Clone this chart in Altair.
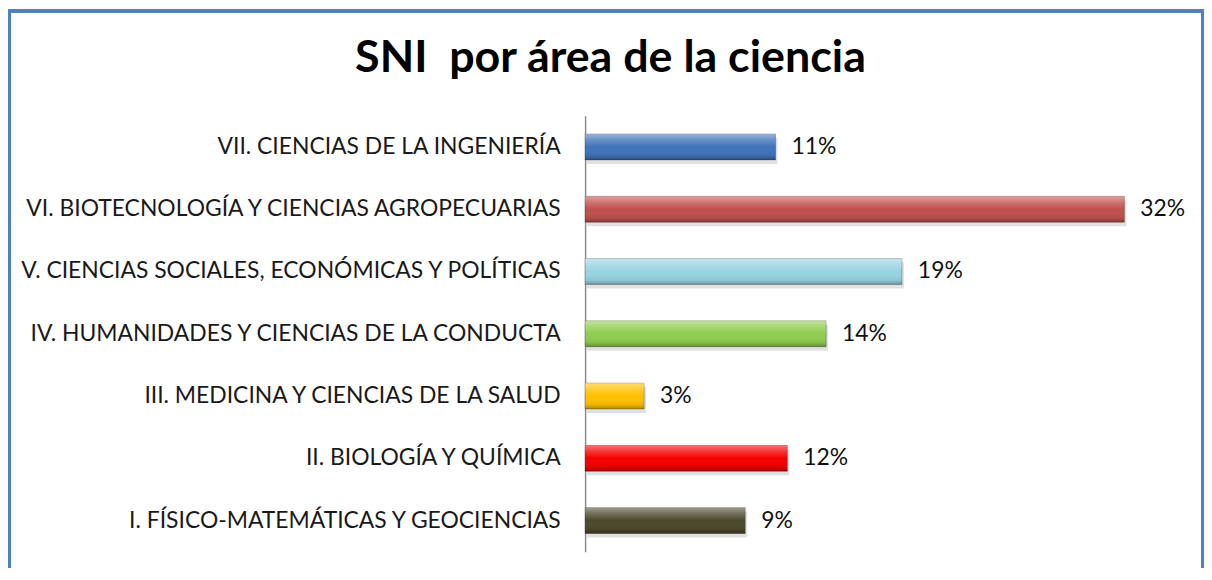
import altair as alt
import pandas as pd

categories = [
    "VII. CIENCIAS DE LA INGENIERÍA",
    "VI. BIOTECNOLOGÍA Y CIENCIAS AGROPECUARIAS",
    "V. CIENCIAS SOCIALES, ECONÓMICAS Y POLÍTICAS",
    "IV. HUMANIDADES Y CIENCIAS DE LA CONDUCTA",
    "III. MEDICINA Y CIENCIAS DE LA SALUD",
    "II. BIOLOGÍA Y QUÍMICA",
    "I. FÍSICO-MATEMÁTICAS Y GEOCIENCIAS",
]
values = [11.3, 32.0, 18.8, 14.3, 3.5, 12.0, 9.5]
labels = ["11%", "32%", "19%", "14%", "3%", "12%", "9%"]
colors = ["#3F73BA", "#C0504D", "#98D3E2", "#8FCC4E", "#FFC000", "#F40000", "#4C482E"]
title_text = "SNI\u00a0 por área de la ciencia"

df = pd.DataFrame({"area": categories, "valor": values, "etiqueta": labels})

W, H = 560, 438
PL, PT = 580, 107
FONT = "Lato"

y_enc = alt.Y(
    "area:N",
    sort=categories,
    scale=alt.Scale(paddingInner=0.585, paddingOuter=0.2925),
    axis=alt.Axis(
        title=None, ticks=False, labelPadding=25, labelFontSize=23, labelFont=FONT,
        labelColor="#1a1a1a", labelLimit=700, domainColor="#8c8c8c", domainWidth=1.5,
        grid=False,
    ),
)
x_enc = alt.X("valor:Q", scale=alt.Scale(domain=[0, 32 * W / 542]), axis=None)

base = alt.Chart(df)

shadow = base.mark_bar(color="#000000", opacity=0.12, yOffset=4, xOffset=2).encode(x=x_enc, y=y_enc)

bars = base.mark_bar(stroke="#00000040", strokeWidth=1).encode(
    x=x_enc, y=y_enc,
    color=alt.Color("area:N", scale=alt.Scale(domain=categories, range=colors), legend=None),
)

gloss = base.mark_bar(
    color=alt.Gradient(
        gradient="linear", x1=0, x2=0, y1=0, y2=1,
        stops=[
            alt.GradientStop(offset=0, color="rgba(255,255,255,0.45)"),
            alt.GradientStop(offset=0.25, color="rgba(255,255,255,0.2)"),
            alt.GradientStop(offset=0.5, color="rgba(255,255,255,0)"),
            alt.GradientStop(offset=0.85, color="rgba(0,0,0,0.08)"),
            alt.GradientStop(offset=1, color="rgba(0,0,0,0.3)"),
        ],
    )
).encode(x=x_enc, y=y_enc)

text = base.mark_text(align="left", baseline="middle", dx=16, fontSize=23, font=FONT, color="#111111").encode(
    x=x_enc, y=y_enc, text="etiqueta:N"
)

title = alt.Chart(pd.DataFrame({"t": [title_text]})).mark_text(
    align="center", baseline="alphabetic", fontSize=45, font=FONT, fontWeight="bold", color="#000000"
).encode(x=alt.value(25.5), y=alt.value(-44), text="t:N")

border_color = "#4F81BD"
b_left = base.mark_rule(color=border_color, strokeWidth=3).encode(
    x=alt.value(-PL + 1.5), y=alt.value(-PT), y2=alt.value(H + 40))
b_top = base.mark_rule(color=border_color, strokeWidth=3).encode(
    x=alt.value(-PL), x2=alt.value(622), y=alt.value(-PT + 1.5))
b_right = base.mark_rule(color=border_color, strokeWidth=3).encode(
    x=alt.value(620.5), y=alt.value(-PT), y2=alt.value(H + 40))

chart = alt.layer(shadow, bars, gloss, text, title, b_left, b_top, b_right).properties(
    width=W, height=H,
    padding={"left": PL, "top": PT, "right": 62, "bottom": 15},
    autosize=alt.AutoSizeParams(type="none"),
    background="white",
).configure_view(stroke=None)

chart.save("out.html", embed_options={"renderer": "svg", "actions": False})
